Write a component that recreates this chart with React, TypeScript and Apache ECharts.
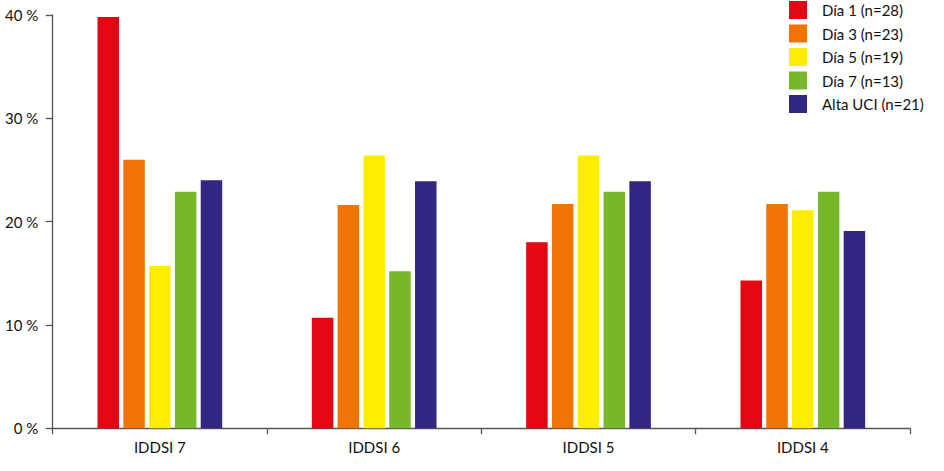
import React, { useEffect, useRef } from "react";
import * as echarts from "echarts";

const categories = ["IDDSI 7", "IDDSI 6", "IDDSI 5", "IDDSI 4"];
const seriesNames = ["Día 1 (n=28)", "Día 3 (n=23)", "Día 5 (n=19)", "Día 7 (n=13)", "Alta UCI (n=21)"];
const dia1 = [39.8, 10.7, 18.0, 14.3];
const dia3 = [26.0, 21.6, 21.7, 21.7];
const dia5 = [15.7, 26.4, 26.4, 21.1];
const dia7 = [22.9, 15.2, 22.9, 22.9];
const alta = [24.0, 23.9, 23.9, 19.1];
const colors = ["#E30613", "#EF7404", "#FFED00", "#76B82A", "#312783"];
const yTicks = [0, 10, 20, 30, 40];

export default function App() {
  const ref = useRef<HTMLDivElement>(null);
  useEffect(() => {
    if (!ref.current) return;
    const chart = echarts.init(ref.current, null, { renderer: "svg" });
    const values = [dia1, dia3, dia5, dia7, alta];
    const font = "Lato, 'Open Sans', sans-serif";
    chart.setOption({
      animation: false,
      textStyle: { fontFamily: font },
      legend: {
        orient: "vertical",
        left: 789,
        top: 1,
        padding: 0,
        itemWidth: 18,
        itemHeight: 18,
        itemGap: 5.5,
        icon: "rect",
        data: seriesNames,
        textStyle: { fontSize: 15, color: "#111", fontFamily: font, padding: [0, 0, 0, 10] },
      },
      grid: { left: 52.7, right: 34, top: 15, bottom: 42.7, containLabel: false },
      xAxis: {
        type: "category",
        data: categories,
        axisLine: { lineStyle: { color: "#555", width: 1.3 } },
        axisTick: { show: true, length: 6, lineStyle: { color: "#555", width: 1.3 } },
        axisLabel: { fontSize: 15, color: "#111", margin: 11, fontFamily: font },
      },
      yAxis: {
        type: "value",
        min: yTicks[0],
        max: yTicks[yTicks.length - 1],
        interval: 10,
        splitLine: { show: false },
        axisLine: { show: true, lineStyle: { color: "#555", width: 1.3 } },
        axisTick: { show: true, length: 7, lineStyle: { color: "#555", width: 1.3 } },
        axisLabel: { formatter: "{value} %", fontSize: 15, color: "#111", margin: 14.5, fontFamily: font },
      },
      series: seriesNames.map((name, i) => ({
        name,
        type: "bar",
        data: values[i],
        barWidth: 21.5,
        barGap: "20%",
        itemStyle: { color: colors[i] },
      })),
    });
    return () => chart.dispose();
  }, []);
  return <div ref={ref} style={{ width: 944, height: 471, position: "absolute", left: 0, top: 0 }} />;
}
